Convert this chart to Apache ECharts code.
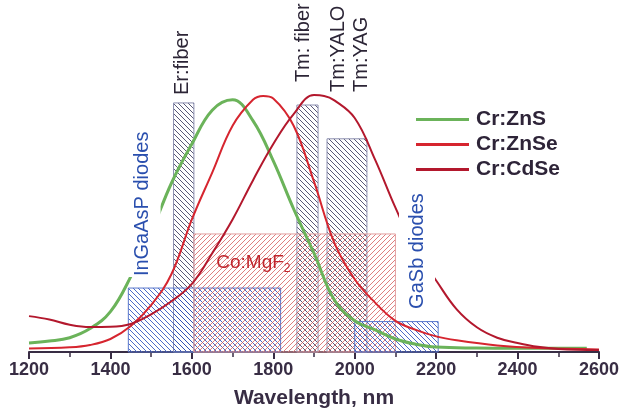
<!DOCTYPE html>
<html>
<head>
<meta charset="utf-8">
<script src="https://cdn.jsdelivr.net/npm/echarts@6/dist/echarts.min.js"></script>
<style>
  html, body { margin: 0; padding: 0; background: #fff; }
  #chart { width: 623px; height: 417px; }
</style>
</head>
<body>
<div id="chart"></div>
<script>
// Emission spectra (normalised intensity) versus wavelength, nm
const znsWave  = [1200, 1250, 1300, 1350, 1400, 1450, 1500, 1550, 1600, 1650, 1700, 1750, 1800, 1850, 1900, 1950, 2000, 2050, 2100, 2150, 2200, 2300, 2400, 2570];
const znsValue = [0.035, 0.042, 0.055, 0.09, 0.155, 0.29, 0.46, 0.65, 0.8, 0.93, 0.97, 0.89, 0.735, 0.55, 0.38, 0.2, 0.12, 0.085, 0.05, 0.03, 0.019, 0.015, 0.014, 0.014];

const znseWave  = [1200, 1300, 1350, 1400, 1450, 1500, 1550, 1600, 1650, 1700, 1750, 1775, 1800, 1850, 1900, 1950, 2000, 2050, 2100, 2150, 2200, 2250, 2350, 2450, 2600];
const znseValue = [0.013, 0.018, 0.027, 0.05, 0.1, 0.18, 0.3, 0.51, 0.69, 0.87, 0.97, 0.985, 0.975, 0.87, 0.655, 0.42, 0.28, 0.19, 0.12, 0.085, 0.06, 0.045, 0.025, 0.015, 0.01];

const cdseWave  = [1200, 1250, 1300, 1350, 1400, 1450, 1500, 1550, 1600, 1650, 1700, 1750, 1800, 1850, 1900, 1925, 1950, 2000, 2050, 2100, 2150, 2200, 2250, 2300, 2350, 2400, 2450, 2500, 2600];
const cdseValue = [0.138, 0.125, 0.105, 0.096, 0.097, 0.108, 0.145, 0.195, 0.262, 0.38, 0.51, 0.66, 0.8, 0.915, 0.988, 0.985, 0.968, 0.9, 0.74, 0.555, 0.39, 0.275, 0.165, 0.095, 0.055, 0.035, 0.02, 0.012, 0.008];

// Pump sources: spectral band (nm) and bar height
const bandNames = ['Er:fiber', 'Tm: fiber', 'Tm:YALO\nTm:YAG', 'InGaAsP diodes', 'Co:MgF2', 'GaSb diodes'];
const bandStart = [1555, 1858, 1932, 1444, 1605, 2000];
const bandEnd   = [1605, 1910, 2030, 1818, 2100, 2205];
const bandLevel = [0.958, 0.95, 0.82, 0.246, 0.454, 0.117];

// x axis ticks
const tickMin = 1200, tickMax = 2600, tickStep = 200;

const seriesNames = ['Cr:ZnS', 'Cr:ZnSe', 'Cr:CdSe'];

// ---- styling ----
const INK = '#382d44';
const FONT = 'Liberation Sans, Arial, sans-serif';
const lineColors = ['#6bb35a', '#d6252f', '#b3182d'];

function hatch(color, dir, period, width) {
  const c = document.createElement('canvas');
  c.width = period; c.height = period;
  const g = c.getContext('2d');
  g.strokeStyle = color;
  g.lineWidth = width;
  g.beginPath();
  for (let k = -1; k <= 1; k++) {
    if (dir === '\\') {
      g.moveTo(k * period, 0); g.lineTo(k * period + period, period);
    } else {
      g.moveTo(k * period, period); g.lineTo(k * period + period, 0);
    }
  }
  g.stroke();
  return { image: c, repeat: 'repeat' };
}

const grayHatch = hatch('rgba(60,60,95,0.85)', '\\', 5, 1);
const blueHatch = hatch('rgba(45,80,190,0.85)', '\\', 5, 1);
const redHatch  = hatch('rgba(215,95,95,0.8)', '/', 5, 1);

// fill and border per band
const bandStyle = [
  { fill: grayHatch, stroke: '#8c8fb0' },
  { fill: grayHatch, stroke: '#8c8fb0' },
  { fill: grayHatch, stroke: '#8c8fb0' },
  { fill: blueHatch, stroke: '#5a78cc' },
  { fill: redHatch,  stroke: '#e3a0a0' },
  { fill: blueHatch, stroke: '#5a78cc' }
];

// where each band caption sits: anchor (wavelength, level), rotation and look
const captionLayout = [
  { at: [1578, 0.988], rotate: true, color: '#2c2536' },
  { at: [1873, 1.038], rotate: true, color: '#2c2536' },
  { at: [1989, 1.0],   rotate: true, color: '#2c2536', lineHeight: 23 },
  { at: [1479, 0.288], rotate: true, color: '#2a4fae', box: true },
  { at: [1660, 0.345], rotate: false, color: '#c0262d' },
  { at: [2153, 0.162], rotate: true, color: '#2a4fae', box: true }
];

const bandData = bandStart.map((s, i) => [s, bandEnd[i], bandLevel[i]]);

function pairs(xs, ys) { return xs.map((x, i) => [x, ys[i]]); }

const chart = echarts.init(document.getElementById('chart'), null, { renderer: 'canvas' });

chart.setOption({
  animation: false,
  backgroundColor: '#ffffff',
  grid: { left: 29, right: 24, top: 92, bottom: 65 },
  xAxis: {
    type: 'value',
    min: tickMin, max: tickMax, interval: tickStep,
    name: 'Wavelength, nm',
    nameLocation: 'middle',
    nameGap: 36,
    nameTextStyle: { fontFamily: FONT, fontSize: 21, fontWeight: 'bold', color: INK },
    axisLine: { onZero: false, lineStyle: { color: INK, width: 2 } },
    axisTick: { show: true, length: 7, lineStyle: { color: INK, width: 2 } },
    minorTick: { show: true, splitNumber: 2, length: 5, lineStyle: { color: INK, width: 1.5 } },
    splitLine: { show: false },
    axisLabel: {
      fontFamily: FONT, fontSize: 18, fontWeight: 'bold', color: INK, margin: 9,
      formatter: v => String(v)
    }
  },
  yAxis: { type: 'value', min: 0, max: 1, show: false },
  legend: {
    orient: 'vertical',
    left: 411, top: 104,
    itemWidth: 53, itemHeight: 3, itemGap: 4,
    icon: 'rect',
    data: seriesNames,
    textStyle: { fontFamily: FONT, fontSize: 21, fontWeight: 'bold', color: '#2e2438', padding: [0, 0, 0, 2] }
  },
  series: [
    {
      type: 'custom',
      name: 'bands',
      z: 1,
      silent: true,
      data: bandData,
      encode: { x: [0, 1], y: 2 },
      renderItem(params, api) {
        const i = params.dataIndex;
        const a = api.coord([api.value(0), api.value(2)]);
        const b = api.coord([api.value(1), 0]);
        return {
          type: 'rect',
          shape: { x: a[0], y: a[1], width: b[0] - a[0], height: b[1] - a[1] },
          style: { fill: bandStyle[i].fill, stroke: bandStyle[i].stroke, lineWidth: 1 }
        };
      }
    },
    {
      type: 'line', name: seriesNames[0], z: 3,
      data: pairs(znsWave, znsValue), smooth: 0.4, showSymbol: false,
      lineStyle: { color: lineColors[0], width: 3 }, itemStyle: { color: lineColors[0] }
    },
    {
      type: 'line', name: seriesNames[1], z: 3,
      data: pairs(znseWave, znseValue), smooth: 0.4, showSymbol: false,
      lineStyle: { color: lineColors[1], width: 2 }, itemStyle: { color: lineColors[1] }
    },
    {
      type: 'line', name: seriesNames[2], z: 3,
      data: pairs(cdseWave, cdseValue), smooth: 0.4, showSymbol: false,
      lineStyle: { color: lineColors[2], width: 2 }, itemStyle: { color: lineColors[2] }
    },
    {
      type: 'custom',
      name: 'captions',
      z: 5,
      silent: true,
      data: bandNames.map((n, i) => [captionLayout[i].at[0], captionLayout[i].at[1]]),
      encode: { x: 0, y: 1 },
      renderItem(params, api) {
        const i = params.dataIndex;
        const lay = captionLayout[i];
        const p = api.coord([api.value(0), api.value(1)]);
        const name = bandNames[i];
        if (!lay.rotate) {
          // formula caption with a subscript digit
          const base = name.slice(0, -1), sub = name.slice(-1);
          return {
            type: 'text',
            x: p[0], y: p[1],
            style: {
              text: '{m|' + base + '}{s|' + sub + '}',
              align: 'left', verticalAlign: 'middle',
              rich: {
                m: { fontFamily: FONT, fontSize: 19, fill: lay.color, lineHeight: 24 },
                s: { fontFamily: FONT, fontSize: 12, fill: lay.color, lineHeight: 24, padding: [12, 0, 0, 0] }
              }
            }
          };
        }
        return {
          type: 'text',
          x: p[0], y: p[1],
          rotation: Math.PI / 2,
          style: {
            text: name,
            fontFamily: FONT, fontSize: 20,
            fill: lay.color,
            align: 'left', verticalAlign: 'middle',
            lineHeight: lay.lineHeight || 22,
            backgroundColor: lay.box ? '#ffffff' : null,
            padding: lay.box ? [7, 1, 7, 1] : 0
          }
        };
      }
    }
  ]
});
</script>
</body>
</html>
